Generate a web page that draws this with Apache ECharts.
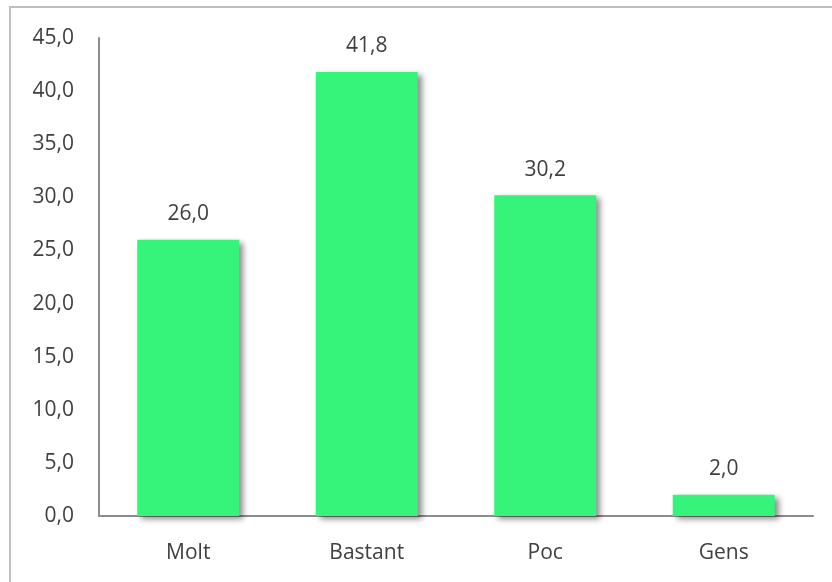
<!DOCTYPE html>
<html>
<head>
<meta charset="utf-8">
<script src="https://cdn.jsdelivr.net/npm/echarts@6/dist/echarts.min.js"></script>
<style>
html,body{margin:0;padding:0;background:#fff;}
#chart{width:832px;height:582px;}
</style>
</head>
<body>
<div id="chart"></div>
<script>
var categories = ['Molt', 'Bastant', 'Poc', 'Gens'];
var values = [26.0, 41.8, 30.2, 2.0];
var yMin = 0, yMax = 45, yStep = 5;

var fmt = function (v) { return Number(v).toFixed(1).replace('.', ','); };
var font = 'Open Sans, Lato, sans-serif';

var chart = echarts.init(document.getElementById('chart'));
chart.setOption({
  animation: false,
  backgroundColor: '#fff',
  graphic: [{
    type: 'rect',
    shape: { x: 10, y: 7, width: 900, height: 700 },
    style: { fill: 'none', stroke: '#c0c0c0', lineWidth: 2 },
    z: 0
  }],
  grid: { left: 99, top: 38, right: 19, bottom: 66, containLabel: false },
  xAxis: {
    type: 'category',
    data: categories,
    axisLine: { show: true, lineStyle: { color: '#8c8c8c', width: 2 } },
    axisTick: { show: false },
    axisLabel: { color: '#404040', fontSize: 21, fontFamily: font, margin: 27 }
  },
  yAxis: {
    type: 'value',
    min: yMin, max: yMax, interval: yStep,
    axisLine: { show: true, lineStyle: { color: '#8c8c8c', width: 2 } },
    axisTick: { show: false },
    splitLine: { show: false },
    axisLabel: { color: '#404040', fontSize: 21, fontFamily: font, margin: 25, formatter: fmt }
  },
  series: [{
    type: 'bar',
    data: values,
    barWidth: 102,
    itemStyle: {
      color: '#34F57A',
      shadowColor: 'rgba(0,0,0,0.45)',
      shadowBlur: 6,
      shadowOffsetX: 4,
      shadowOffsetY: 3
    },
    label: {
      show: true,
      position: 'top',
      distance: 15,
      color: '#404040',
      fontSize: 21,
      fontFamily: font,
      formatter: function (p) { return fmt(p.value); }
    }
  }]
});
</script>
</body>
</html>
